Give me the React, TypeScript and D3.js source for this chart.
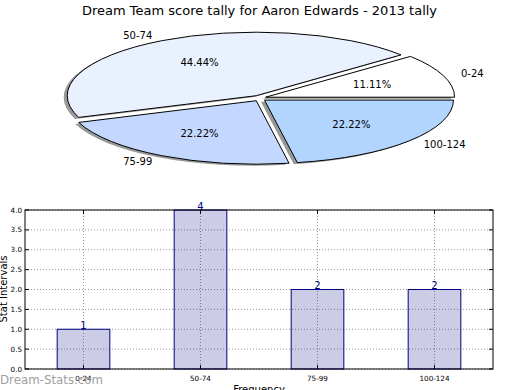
import React from "react";
import * as d3 from "d3";

const title = "Dream Team score tally for Aaron Edwards - 2013 tally";
const categories = ["0-24", "50-74", "75-99", "100-124"];
const counts = [1, 4, 2, 2];
const pieColors = ["#ffffff", "#eaf1fe", "#c4d8ff", "#b2d5ff"];
const yTicks = [0, 0.5, 1, 1.5, 2, 2.5, 3, 3.5, 4];
const yLabel = "Stat Intervals";
const xLabel = "Frequency";
const watermark = "Dream-Stats.com";

const FONT = "'DejaVu Sans', sans-serif";

export default function App() {
  const W = 520, H = 390;
  // pie geometry
  const cx = 259.5, cy = 98.2, rx = 189, ry = 63.5;
  const ex = 6.5, ey = 2.9;
  const total = d3.sum(counts);
  const arcs = d3.pie<number>().sort(null).value((d) => d)(counts);
  const wedges = arcs.map((a, i) => {
    const s = a.startAngle, e = a.endAngle, m = (s + e) / 2;
    const vx = cx + ex * Math.cos(m);
    const vy = cy - ey * Math.sin(m);
    const x1 = vx + rx * Math.cos(s), y1 = vy - ry * Math.sin(s);
    const x2 = vx + rx * Math.cos(e), y2 = vy - ry * Math.sin(e);
    const large = e - s > Math.PI ? 1 : 0;
    const d = `M${vx},${vy}L${x1},${y1}A${rx},${ry} 0 ${large} 0 ${x2},${y2}Z`;
    const lx = vx + 1.1 * rx * Math.cos(m);
    const ly = vy - 1.1 * ry * Math.sin(m);
    const px = vx + 0.6 * rx * Math.cos(m);
    const py = vy - 0.6 * ry * Math.sin(m);
    const pct = ((counts[i] / total) * 100).toFixed(2) + "%";
    return { d, lx, ly, px, py, pct, anchor: Math.cos(m) < 0 ? "end" : "start", i };
  });

  // bar chart
  const left = 25, right = 493, top = 210, bottom = 369;
  const x = d3.scaleLinear().domain([-0.5, 3.5]).range([left, right]);
  const y = d3.scaleLinear().domain([0, 4]).range([bottom, top]);
  const bw = x(0.45) - x(0);

  return (
    <svg width={W} height={H} style={{ position: "absolute", left: 0, top: 0, background: "#fff" }} fontFamily={FONT}>
      <rect width={W} height={H} fill="#fff" />
      <text x={259.5} y={15} textAnchor="middle" fontSize={13} fill="#000">{title}</text>
      {/* shadows */}
      {wedges.map((w) => (
        <path key={"s" + w.i} d={w.d} transform="translate(-3.6,1.6)" fill="#000" fillOpacity={0.4} stroke="none" />
      ))}
      {wedges.map((w) => (
        <path key={"w" + w.i} d={w.d} fill={pieColors[w.i]} stroke="#000" strokeWidth={1} strokeLinejoin="round" />
      ))}
      {wedges.map((w) => (
        <g key={"l" + w.i}>
          <text x={w.lx} y={w.ly} dy="0.35em" textAnchor={w.anchor} fontSize={10}>{categories[w.i]}</text>
          <text x={w.px} y={w.py} dy="0.35em" textAnchor="middle" fontSize={10}>{w.pct}</text>
        </g>
      ))}

      {/* grid */}
      {yTicks.map((t) => (
        <line key={"gy" + t} x1={left} x2={right} y1={y(t)} y2={y(t)} stroke="#999" strokeWidth={1} strokeDasharray="1,2" />
      ))}
      {categories.map((c, i) => (
        <line key={"gx" + c} x1={x(i)} x2={x(i)} y1={top} y2={bottom} stroke="#999" strokeWidth={1} strokeDasharray="1,2" />
      ))}
      {/* bars */}
      {counts.map((v, i) => (
        <g key={"b" + i}>
          <rect x={x(i) - bw / 2} y={y(v)} width={bw} height={y(0) - y(v)} fill="#000080" fillOpacity={0.2} stroke="#000080" strokeWidth={1} />
          <text x={x(i)} y={y(v) - 0.5} textAnchor="middle" fontSize={10} fill="#000080">{v}</text>
        </g>
      ))}
      {/* ticks */}
      {yTicks.map((t) => (
        <g key={"ty" + t}>
          <line x1={left} x2={left + 4} y1={y(t)} y2={y(t)} stroke="#000" />
          <line x1={right} x2={right - 4} y1={y(t)} y2={y(t)} stroke="#000" />
          <text x={left - 3} y={y(t)} dy="0.35em" textAnchor="end" fontSize={7.2}>{t.toFixed(1)}</text>
        </g>
      ))}
      {categories.map((c, i) => (
        <g key={"tx" + c}>
          <line x1={x(i)} x2={x(i)} y1={bottom} y2={bottom - 4} stroke="#000" />
          <line x1={x(i)} x2={x(i)} y1={top} y2={top + 4} stroke="#000" />
          <text x={x(i)} y={bottom + 11.5} textAnchor="middle" fontSize={7.2}>{c}</text>
        </g>
      ))}
      <rect x={left} y={top} width={right - left} height={bottom - top} fill="none" stroke="#000" strokeWidth={1} />
      <text transform={`translate(6.5,289) rotate(-90)`} textAnchor="middle" fontSize={10}>{yLabel}</text>
      <text x={259} y={393} textAnchor="middle" fontSize={10}>{xLabel}</text>
      <text x={0} y={384} fontSize={11.8} fill="#a0a0a0">{watermark}</text>
    </svg>
  );
}
